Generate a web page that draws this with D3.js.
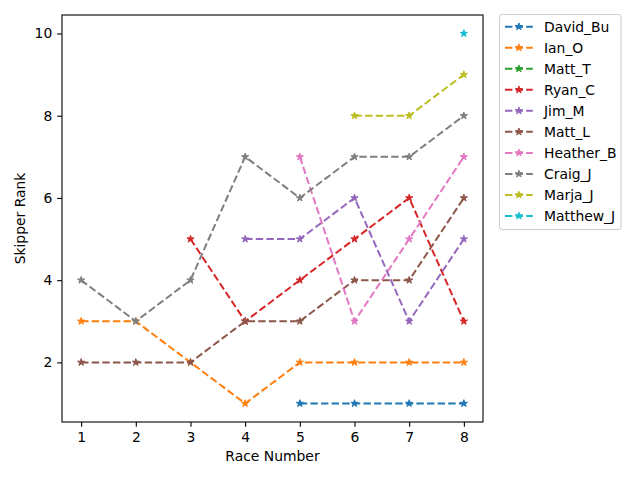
<!DOCTYPE html>
<html>
<head>
<meta charset="utf-8">
<script src="https://cdn.jsdelivr.net/npm/d3@7"></script>
<style>
body{margin:0;background:#fff;}
svg{display:block;font-family:"DejaVu Sans",sans-serif;}
</style>
</head>
<body>
<svg id="chart" width="640" height="480"></svg>
<script>
const races = [1, 2, 3, 4, 5, 6, 7, 8];
const skippers = ["David_Bu","Ian_O","Matt_T","Ryan_C","Jim_M","Matt_L","Heather_B","Craig_J","Marja_J","Matthew_J"];
const David_Bu  = [null,null,null,null,1,1,1,1];
const Ian_O     = [3,3,2,1,2,2,2,2];
const Matt_T    = [null,null,null,null,null,null,null,null];
const Ryan_C    = [null,null,5,3,4,5,6,3];
const Jim_M     = [null,null,null,5,5,6,3,5];
const Matt_L    = [2,2,2,3,3,4,4,6];
const Heather_B = [null,null,null,null,7,3,5,7];
const Craig_J   = [4,3,4,7,6,7,7,8];
const Marja_J   = [null,null,null,null,null,8,8,9];
const Matthew_J = [null,null,null,null,null,null,null,10];
const seriesValues = [David_Bu,Ian_O,Matt_T,Ryan_C,Jim_M,Matt_L,Heather_B,Craig_J,Marja_J,Matthew_J];
const xTicks = [1,2,3,4,5,6,7,8];
const yTicks = [2,4,6,8,10];
const colors = ["#1f77b4","#ff7f0e","#2ca02c","#d62728","#9467bd","#8c564b","#e377c2","#7f7f7f","#bcbd22","#17becf"];

const L = 62, R = 483, T = 15, B = 422;
const svg = d3.select("#chart");
const x = d3.scaleLinear().domain([0.65, 8.35]).range([L, R]);
const y = d3.scaleLinear().domain([0.55, 10.45]).range([B, T]);

const fs = "13.9px";
function starPath(r) {
  const pts = [];
  const inner = r * 0.381966;
  for (let i = 0; i < 10; i++) {
    const a = -Math.PI / 2 + i * Math.PI / 5;
    const rr = i % 2 === 0 ? r : inner;
    pts.push([rr * Math.cos(a), rr * Math.sin(a)]);
  }
  return "M" + pts.map(p => p[0].toFixed(3) + "," + p[1].toFixed(3)).join("L") + "Z";
}
const star = starPath(3.8);
const dash = "7.4,3.2";
const lw = 2;

const plot = svg.append("g");
const line = d3.line().defined(d => d.v != null).x(d => x(d.r)).y(d => y(d.v));

skippers.forEach((name, i) => {
  const data = races.map((r, j) => ({r: r, v: seriesValues[i][j]}));
  const g = plot.append("g");
  g.append("path").datum(data).attr("d", line)
    .attr("fill", "none").attr("stroke", colors[i]).attr("stroke-width", lw)
    .attr("stroke-dasharray", dash);
  g.selectAll("path.m").data(data.filter(d => d.v != null)).enter().append("path")
    .attr("class", "m").attr("d", star)
    .attr("transform", d => `translate(${x(d.r)},${y(d.v)})`)
    .attr("fill", colors[i]).attr("stroke", colors[i]).attr("stroke-width", 1);
});

const xAxis = d3.axisBottom(x).tickValues(xTicks).tickSize(4.86).tickPadding(4.86).tickFormat(d3.format("d"));
const yAxis = d3.axisLeft(y).tickValues(yTicks).tickSize(4.86).tickPadding(4.86).tickFormat(d3.format("d"));
const gx = svg.append("g").attr("transform", `translate(0,${B})`).call(xAxis);
const gy = svg.append("g").attr("transform", `translate(${L},0)`).call(yAxis);
[gx, gy].forEach(g => {
  g.select(".domain").remove();
  g.selectAll(".tick line").attr("stroke", "#000").attr("stroke-width", 1.1);
  g.selectAll(".tick text").attr("fill", "#000").style("font-size", fs).style("font-family", "DejaVu Sans");
});

svg.append("rect").attr("x", L).attr("y", T).attr("width", R - L).attr("height", B - T)
  .attr("fill", "none").attr("stroke", "#000").attr("stroke-width", 1.1);

svg.append("text").attr("x", (L + R) / 2).attr("y", 461).attr("text-anchor", "middle")
  .style("font-size", fs).text("Race Number");
svg.append("text").attr("transform", `translate(25,${(T + B) / 2}) rotate(-90)`)
  .attr("text-anchor", "middle").style("font-size", fs).text("Skipper Rank");

const lg = svg.append("g");
lg.append("rect").attr("x", 499.5).attr("y", 14.5).attr("width", 121.5).attr("height", 215)
  .attr("rx", 2.8).attr("fill", "#fff").attr("fill-opacity", 0.8)
  .attr("stroke", "#cccccc").attr("stroke-width", 1);
skippers.forEach((name, i) => {
  const cy = 26.7 + i * 21.03;
  lg.append("line").attr("x1", 505).attr("x2", 532.8).attr("y1", cy).attr("y2", cy)
    .attr("stroke", colors[i]).attr("stroke-width", lw).attr("stroke-dasharray", dash);
  lg.append("path").attr("d", star).attr("transform", `translate(518.9,${cy})`)
    .attr("fill", colors[i]).attr("stroke", colors[i]).attr("stroke-width", 1);
  lg.append("text").attr("x", 544).attr("y", cy).attr("dy", "0.35em")
    .style("font-size", fs).attr("fill", "#000").text(name);
});
</script>
</body>
</html>
